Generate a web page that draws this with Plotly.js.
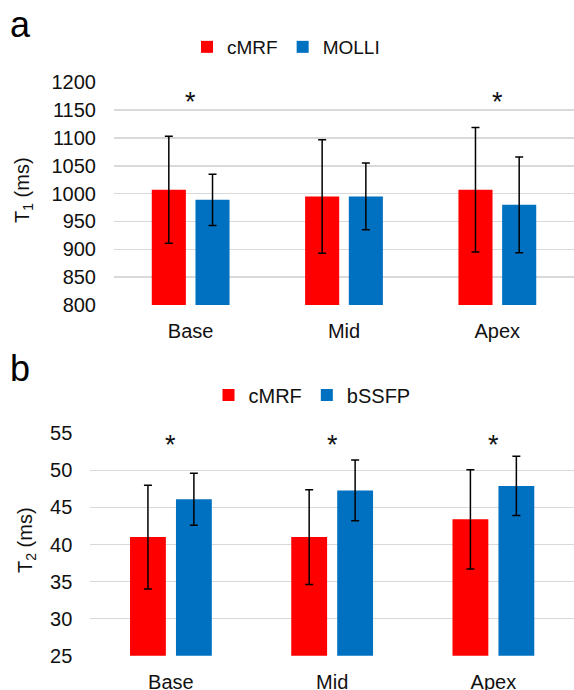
<!DOCTYPE html>
<html>
<head>
<meta charset="utf-8">
<script src="https://cdn.plot.ly/plotly-3.0.1.min.js"></script>
<style>html,body{margin:0;padding:0;background:#fff;}#chart{width:574px;height:690px;}</style>
</head>
<body>
<div id="chart"></div>
<script>
// ---- data ----
const categories = ['Base', 'Mid', 'Apex'];
const t1Cmrf = [1007, 995, 1007];
const t1CmrfSd = [96, 102, 112];
const t1Molli = [989, 995, 980];
const t1MolliSd = [46, 60, 86];
const t2Cmrf = [41.0, 41.0, 43.4];
const t2CmrfSd = [7.0, 6.4, 6.7];
const t2Bssfp = [46.1, 47.3, 47.9];
const t2BssfpSd = [3.5, 4.1, 4.0];
const t1Significant = ['Base', 'Apex'];
const t1StarLevel = 1165;
const t2Significant = ['Base', 'Mid', 'Apex'];
const t2StarLevel = 53.4;
const t1Ticks = [800, 850, 900, 950, 1000, 1050, 1100, 1150, 1200];
const t2Ticks = [25, 30, 35, 40, 45, 50, 55];

const RED = '#ff0000', BLUE = '#0070c0';
const FONT = '"Liberation Sans", Arial, sans-serif';
const TXT = '#111111';

function errBar(sd) {
  return {type: 'data', array: sd, visible: true, color: '#000', thickness: 1.5, width: 4};
}

const traces = [
  {type: 'bar', name: 'cMRF', x: categories, y: t1Cmrf, error_y: errBar(t1CmrfSd),
   marker: {color: RED}, xaxis: 'x', yaxis: 'y', legend: 'legend'},
  {type: 'bar', name: 'MOLLI', x: categories, y: t1Molli, error_y: errBar(t1MolliSd),
   marker: {color: BLUE}, xaxis: 'x', yaxis: 'y', legend: 'legend'},
  {type: 'bar', name: 'cMRF', x: categories, y: t2Cmrf, error_y: errBar(t2CmrfSd),
   marker: {color: RED}, xaxis: 'x2', yaxis: 'y2', legend: 'legend2'},
  {type: 'bar', name: 'bSSFP', x: categories, y: t2Bssfp, error_y: errBar(t2BssfpSd),
   marker: {color: BLUE}, xaxis: 'x2', yaxis: 'y2', legend: 'legend2'}
];

const annotations = [];
t1Significant.forEach(c => annotations.push({xref: 'x', yref: 'y', x: c, y: t1StarLevel, text: '*',
  showarrow: false, font: {family: FONT, size: 27, color: TXT}, yanchor: 'middle'}));
t2Significant.forEach(c => annotations.push({xref: 'x2', yref: 'y2', x: c, y: t2StarLevel, text: '*',
  showarrow: false, font: {family: FONT, size: 27, color: TXT}, yanchor: 'middle'}));
annotations.push({xref: 'paper', yref: 'paper', x: 8 / 574, y: 1 - 24 / 690, xanchor: 'left', yanchor: 'middle',
  text: 'a', showarrow: false, font: {family: FONT, size: 36, color: '#000'}});
annotations.push({xref: 'paper', yref: 'paper', x: 8 / 574, y: 1 - 368 / 690, xanchor: 'left', yanchor: 'middle',
  text: 'b', showarrow: false, font: {family: FONT, size: 36, color: '#000'}});
annotations.push({xref: 'paper', yref: 'paper', x: 23 / 574, y: 1 - 190 / 690, xanchor: 'center', yanchor: 'middle',
  textangle: -90, text: 'T<sub>1</sub> (ms)', showarrow: false, font: {family: FONT, size: 20, color: TXT}});
annotations.push({xref: 'paper', yref: 'paper', x: 26 / 574, y: 1 - 540 / 690, xanchor: 'center', yanchor: 'middle',
  textangle: -90, text: 'T<sub>2</sub> (ms)', showarrow: false, font: {family: FONT, size: 20, color: TXT}});

const yCommon = {showgrid: true, gridcolor: '#d9d9d9', gridwidth: 1.5, zeroline: false, showline: false,
  ticks: '', ticklabelstandoff: 17, tickfont: {family: FONT, size: 20, color: TXT}, fixedrange: true};
const xCommon = {showgrid: false, zeroline: false, showline: false, ticks: '', ticklabelstandoff: 12,
  tickfont: {family: FONT, size: 20, color: TXT}, type: 'category', fixedrange: true};

const layout = {
  width: 574, height: 690,
  margin: {l: 0, r: 0, t: 0, b: 0},
  paper_bgcolor: '#fff', plot_bgcolor: '#fff',
  font: {family: FONT, color: TXT},
  barmode: 'group', bargap: 0.43, bargroupgap: 0.22,
  xaxis: Object.assign({}, xCommon, {domain: [114 / 574, 1], anchor: 'y'}),
  yaxis: Object.assign({}, yCommon, {domain: [1 - 305 / 690, 1 - 82.3 / 690], range: [800, 1200],
    tickvals: t1Ticks, anchor: 'x'}),
  xaxis2: Object.assign({}, xCommon, {domain: [90.3 / 574, 1], anchor: 'y2'}),
  yaxis2: Object.assign({}, yCommon, {domain: [1 - 655.7 / 690, 1 - 433.3 / 690], range: [25, 55],
    tickvals: t2Ticks, anchor: 'x2'}),
  legend: {orientation: 'h', x: 286 / 574, xanchor: 'center', y: 1 - 47 / 690, yanchor: 'middle',
    font: {family: FONT, size: 19, color: TXT}, bgcolor: 'rgba(0,0,0,0)'},
  legend2: {orientation: 'h', x: 312 / 574, xanchor: 'center', y: 1 - 395 / 690, yanchor: 'middle',
    font: {family: FONT, size: 20, color: TXT}, bgcolor: 'rgba(0,0,0,0)'},
  showlegend: true,
  annotations: annotations
};

Plotly.newPlot('chart', traces, layout, {staticPlot: true, displayModeBar: false});
</script>
</body>
</html>
